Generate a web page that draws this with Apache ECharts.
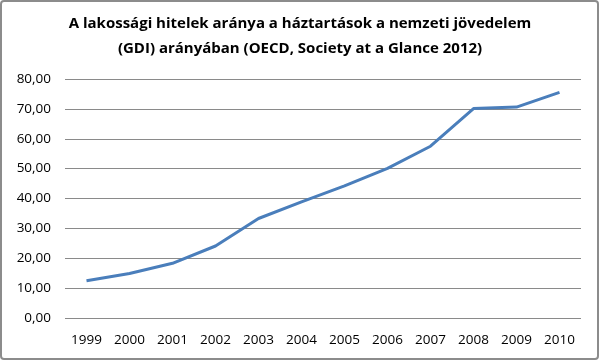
<!DOCTYPE html>
<html><head><meta charset="utf-8">
<script src="https://cdn.jsdelivr.net/npm/echarts@6/dist/echarts.min.js"></script>
<style>html,body{margin:0;padding:0;background:#fff}#c{width:600px;height:361px}</style>
</head><body><div id="c"></div>
<script>
const years = ['1999','2000','2001','2002','2003','2004','2005','2006','2007','2008','2009','2010'];
const ratio = [12.5, 14.9, 18.3, 24.1, 33.3, 38.9, 44.2, 50.1, 57.5, 70.1, 70.6, 75.5];
const titleLines = ['A lakossági hitelek aránya a háztartások a nemzeti jövedelem', '(GDI) arányában (OECD, Society at a Glance 2012)'];

const chart = echarts.init(document.getElementById('c'), null, {renderer:'canvas'});
chart.setOption({
  animation:false,
  backgroundColor:'#fff',
  title:{text:titleLines.join('\n'), left:295, textAlign:'center', top:6,
    textStyle:{fontFamily:'Open Sans', fontWeight:'bold', fontSize:15, lineHeight:25, color:'#000'}},
  graphic:[{type:'rect', shape:{x:1,y:1,width:597,height:358,r:3}, style:{fill:null, stroke:'#8c8c8c', lineWidth:2}, silent:true}],
  grid:{left:65, right:19, top:79, bottom:43},
  xAxis:{type:'category', data:years, boundaryGap:true,
    axisLine:{show:false}, axisTick:{show:false},
    axisLabel:{color:'#000', fontFamily:'Open Sans', fontSize:13.5, margin:15}},
  yAxis:{type:'value', min:0, max:80, interval:10,
    axisLine:{show:false}, axisTick:{show:false},
    splitLine:{lineStyle:{color:'#8a8a8a', width:1}},
    axisLabel:{color:'#000', fontFamily:'Open Sans', fontSize:13.5, margin:14,
      formatter:v=>v.toFixed(2).replace('.',',')}},
  series:[{type:'line', data:ratio, symbol:'none', lineStyle:{color:'#4a7ebb', width:3}}]
});
</script></body></html>
